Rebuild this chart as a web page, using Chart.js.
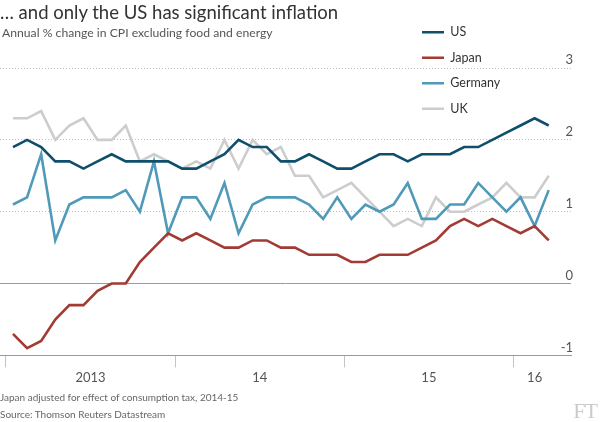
<!DOCTYPE html>
<html>
<head>
<meta charset="utf-8">
<script src="https://cdn.jsdelivr.net/npm/chart.js@4.4.1/dist/chart.umd.min.js"></script>
<style>
  html, body { margin: 0; padding: 0; background: #ffffff; }
  #wrap { position: relative; width: 600px; height: 422px; overflow: hidden; font-family: Lato, "Noto Sans", sans-serif; }
  #c { position: absolute; left: 0; top: 0; }
  .t { position: absolute; white-space: nowrap; }
  #title { left: 0; top: 1px; font-size: 18.5px; color: #333333; }
  #sub { left: 2px; top: 25px; font-size: 12.2px; color: #555555; }
  #note { left: 0; top: 391px; font-size: 10px; color: #666666; }
  #src { left: 0; top: 408px; font-size: 10px; color: #666666; }
  #ft { right: 3px; top: 398px; font-size: 22px; color: #cccccc; font-family: "Liberation Serif", "DejaVu Serif", serif; letter-spacing: -1px; }
</style>
</head>
<body>
<div id="wrap">
  <canvas id="c" width="600" height="422"></canvas>
  <div class="t" id="title">… and only the US has significant inflation</div>
  <div class="t" id="sub">Annual % change in CPI excluding food and energy</div>
  <div class="t" id="note">Japan adjusted for effect of consumption tax, 2014-15</div>
  <div class="t" id="src">Source: Thomson Reuters Datastream</div>
  <div class="t" id="ft">FT</div>
</div>
<script>
// ---- data ----
const months = [
  'Jan 2013','Feb 2013','Mar 2013','Apr 2013','May 2013','Jun 2013','Jul 2013','Aug 2013','Sep 2013','Oct 2013','Nov 2013','Dec 2013',
  'Jan 2014','Feb 2014','Mar 2014','Apr 2014','May 2014','Jun 2014','Jul 2014','Aug 2014','Sep 2014','Oct 2014','Nov 2014','Dec 2014',
  'Jan 2015','Feb 2015','Mar 2015','Apr 2015','May 2015','Jun 2015','Jul 2015','Aug 2015','Sep 2015','Oct 2015','Nov 2015','Dec 2015',
  'Jan 2016','Feb 2016','Mar 2016'
];
const us      = [1.9,2.0,1.9,1.7,1.7,1.6,1.7,1.8,1.7,1.7,1.7,1.7, 1.6,1.6,1.7,1.8,2.0,1.9,1.9,1.7,1.7,1.8,1.7,1.6, 1.6,1.7,1.8,1.8,1.7,1.8,1.8,1.8,1.9,1.9,2.0,2.1, 2.2,2.3,2.2];
const japan   = [-0.7,-0.9,-0.8,-0.5,-0.3,-0.3,-0.1,0.0,0.0,0.3,0.5,0.7, 0.6,0.7,0.6,0.5,0.5,0.6,0.6,0.5,0.5,0.4,0.4,0.4, 0.3,0.3,0.4,0.4,0.4,0.5,0.6,0.8,0.9,0.8,0.9,0.8, 0.7,0.8,0.6];
const germany = [1.1,1.2,1.8,0.6,1.1,1.2,1.2,1.2,1.3,1.0,1.7,0.7, 1.2,1.2,0.9,1.4,0.7,1.1,1.2,1.2,1.2,1.1,0.9,1.2, 0.9,1.1,1.0,1.1,1.4,0.9,0.9,1.1,1.1,1.4,1.2,1.0, 1.2,0.8,1.3];
const uk      = [2.3,2.3,2.4,2.0,2.2,2.3,2.0,2.0,2.2,1.7,1.8,1.7, 1.6,1.7,1.6,2.0,1.6,2.0,1.8,1.9,1.5,1.5,1.2,1.3, 1.4,1.2,1.0,0.8,0.9,0.8,1.2,1.0,1.0,1.1,1.2,1.4, 1.2,1.2,1.5];
const seriesNames = ['US', 'Japan', 'Germany', 'UK'];
const yearLabels = ['2013', '14', '15', '16'];
const yTicks = [-1, 0, 1, 2, 3];

// ---- derived tick positions (from the month list) ----
const years = ['2013', '2014', '2015', '2016'];
const yearIdx = years.map(y => months.map((m, i) => m.endsWith(y) ? i : -1).filter(i => i >= 0));
const yearStart = yearIdx.map(a => a[0] - 0.5);
const yearMid = yearIdx.map(a => (a[0] + a[a.length - 1]) / 2);

const FONT = 'Lato, "Noto Sans", sans-serif';
const colors = { US: '#0f4f6b', Japan: '#a13b33', Germany: '#4f9ab8', UK: '#cdcdcd' };

function ds(label, values) {
  return {
    label,
    data: values.map((v, i) => ({ x: i, y: v })),
    borderColor: colors[label],
    backgroundColor: colors[label],
    borderWidth: 2.6,
    pointRadius: 0,
    pointHoverRadius: 0,
    tension: 0,
    fill: false
  };
}

const legendMover = {
  id: 'legendMover',
  afterLayout(chart) {
    const lg = chart.legend;
    if (!lg) return;
    const w = lg.width, h = lg.height;
    lg.left = 409; lg.right = 409 + w;
    lg.top = 13; lg.bottom = 13 + h;
  }
};

new Chart(document.getElementById('c'), {
  type: 'line',
  data: {
    labels: months,
    datasets: [ds(seriesNames[0], us), ds(seriesNames[1], japan), ds(seriesNames[2], germany), ds(seriesNames[3], uk)]
  },
  plugins: [legendMover],
  options: {
    responsive: false,
    animation: false,
    events: [],
    layout: { padding: { left: 0, right: 25, top: 68, bottom: 33 } },
    plugins: {
      tooltip: { enabled: false },
      title: { display: false },
      legend: {
        display: true,
        position: 'chartArea',
        align: 'start',
        labels: {
          usePointStyle: true,
          pointStyle: 'line',
          pointStyleWidth: 22,
          padding: 13,
          color: '#333333',
          font: { family: FONT, size: 12.5 }
        }
      }
    },
    scales: {
      x: {
        type: 'linear',
        position: 'bottom',
        min: -0.92,
        max: 39.58,
        afterBuildTicks(scale) {
          const vals = yearStart.concat(yearMid).sort((a, b) => a - b);
          scale.ticks = vals.map(v => ({ value: v }));
        },
        ticks: {
          autoSkip: false,
          maxRotation: 0,
          padding: 3,
          color: '#555555',
          font: { family: FONT, size: 13 },
          callback(value) {
            const k = yearMid.indexOf(value);
            return k >= 0 ? yearLabels[k] : '';
          }
        },
        grid: {
          drawOnChartArea: false,
          drawTicks: true,
          tickLength: 12,
          tickWidth: 1,
          tickColor(ctx) {
            return ctx.tick && yearStart.indexOf(ctx.tick.value) >= 0 ? '#c4c4c4' : 'rgba(0,0,0,0)';
          }
        },
        border: { display: true, color: '#9a9a9a', width: 1 }
      },
      y: {
        type: 'linear',
        position: 'right',
        min: -1,
        max: 3,
        afterBuildTicks(scale) { scale.ticks = yTicks.map(v => ({ value: v })); },
        ticks: {
          mirror: true,
          padding: 2,
          labelOffset: -8,
          color: '#555555',
          font: { family: FONT, size: 13 },
          callback: v => String(v)
        },
        grid: {
          drawTicks: false,
          lineWidth: 1,
          color: ctx => (ctx.tick && ctx.tick.value > 0) ? '#bdbdbd' : 'rgba(0,0,0,0)',
          borderDash: [1, 2]
        },
        border: { display: false, dash: [1, 2] }
      },
      y0: {
        type: 'linear',
        position: 'right',
        min: -1,
        max: 3,
        afterBuildTicks(scale) { scale.ticks = [{ value: 0 }]; },
        ticks: { display: false },
        grid: { drawTicks: false, lineWidth: 1, color: '#9a9a9a' },
        border: { display: false }
      }
    }
  }
});
</script>
</body>
</html>
